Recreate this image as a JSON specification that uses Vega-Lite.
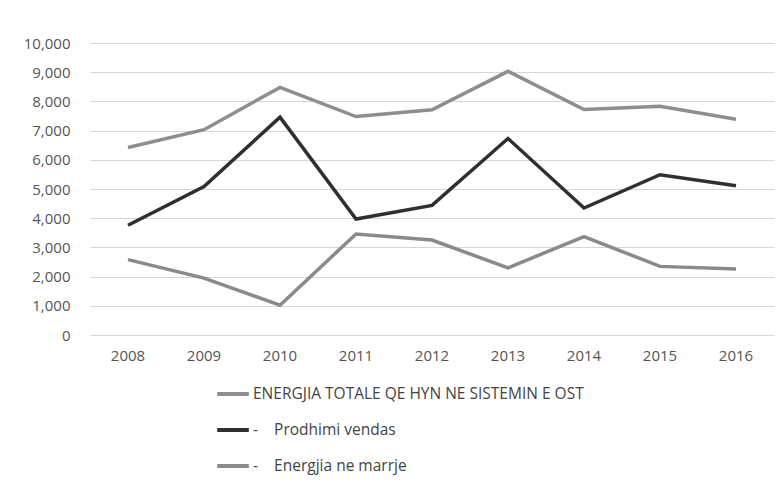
{
  "$schema": "https://vega.github.io/schema/vega-lite/v6.json",
  "width": 684,
  "height": 292,
  "autosize": {"type": "none"},
  "padding": {"left": 90, "top": 43, "right": 10, "bottom": 152},
  "background": "white",
  "config": {
    "font": "Open Sans",
    "view": {"stroke": null}
  },
  "data": {
    "values": [
      {"year": "2008", "series": "ENERGJIA TOTALE QE HYN NE SISTEMIN E OST", "value": 6420},
      {"year": "2009", "series": "ENERGJIA TOTALE QE HYN NE SISTEMIN E OST", "value": 7030},
      {"year": "2010", "series": "ENERGJIA TOTALE QE HYN NE SISTEMIN E OST", "value": 8480},
      {"year": "2011", "series": "ENERGJIA TOTALE QE HYN NE SISTEMIN E OST", "value": 7480},
      {"year": "2012", "series": "ENERGJIA TOTALE QE HYN NE SISTEMIN E OST", "value": 7710},
      {"year": "2013", "series": "ENERGJIA TOTALE QE HYN NE SISTEMIN E OST", "value": 9030},
      {"year": "2014", "series": "ENERGJIA TOTALE QE HYN NE SISTEMIN E OST", "value": 7720},
      {"year": "2015", "series": "ENERGJIA TOTALE QE HYN NE SISTEMIN E OST", "value": 7830},
      {"year": "2016", "series": "ENERGJIA TOTALE QE HYN NE SISTEMIN E OST", "value": 7390},
      {"year": "2008", "series": "Prodhimi vendas", "value": 3760},
      {"year": "2009", "series": "Prodhimi vendas", "value": 5080},
      {"year": "2010", "series": "Prodhimi vendas", "value": 7460},
      {"year": "2011", "series": "Prodhimi vendas", "value": 3970},
      {"year": "2012", "series": "Prodhimi vendas", "value": 4440},
      {"year": "2013", "series": "Prodhimi vendas", "value": 6730},
      {"year": "2014", "series": "Prodhimi vendas", "value": 4350},
      {"year": "2015", "series": "Prodhimi vendas", "value": 5490},
      {"year": "2016", "series": "Prodhimi vendas", "value": 5110},
      {"year": "2008", "series": "Energjia ne marrje", "value": 2580},
      {"year": "2009", "series": "Energjia ne marrje", "value": 1950},
      {"year": "2010", "series": "Energjia ne marrje", "value": 1020},
      {"year": "2011", "series": "Energjia ne marrje", "value": 3460},
      {"year": "2012", "series": "Energjia ne marrje", "value": 3250},
      {"year": "2013", "series": "Energjia ne marrje", "value": 2300},
      {"year": "2014", "series": "Energjia ne marrje", "value": 3370},
      {"year": "2015", "series": "Energjia ne marrje", "value": 2350},
      {"year": "2016", "series": "Energjia ne marrje", "value": 2260}
    ]
  },
  "mark": {"type": "line", "strokeWidth": 3.5, "strokeJoin": "miter"},
  "encoding": {
    "x": {
      "field": "year",
      "type": "ordinal",
      "scale": {"type": "band", "paddingInner": 0, "paddingOuter": 0},
      "axis": {
        "title": null,
        "labelAngle": 0,
        "ticks": false,
        "domain": false,
        "grid": false,
        "labelPadding": 13,
        "labelFontSize": 15,
        "labelColor": "#555555",
        "labelFont": "Open Sans"
      }
    },
    "y": {
      "field": "value",
      "type": "quantitative",
      "scale": {"domain": [0, 10000], "nice": false},
      "axis": {
        "title": null,
        "values": [0, 1000, 2000, 3000, 4000, 5000, 6000, 7000, 8000, 9000, 10000],
        "format": ",d",
        "ticks": false,
        "domain": false,
        "grid": true,
        "gridColor": "#d6d6d6",
        "gridWidth": 1,
        "labelPadding": 20,
        "labelFontSize": 15,
        "labelColor": "#555555",
        "labelFont": "Open Sans"
      }
    },
    "color": {
      "field": "series",
      "type": "nominal",
      "scale": {
        "domain": ["ENERGJIA TOTALE QE HYN NE SISTEMIN E OST", "Prodhimi vendas", "Energjia ne marrje"],
        "range": ["#8e8e8e", "#2f2f2f", "#8a8a8a"]
      },
      "legend": {
        "title": null,
        "orient": "none",
        "legendX": 125,
        "legendY": 333,
        "direction": "vertical",
        "symbolType": "stroke",
        "symbolSize": 1000,
        "symbolStrokeWidth": 4,
        "rowPadding": 9,
        "labelOffset": 2,
        "labelFontSize": 15.5,
        "labelColor": "#444444",
        "labelFont": "Open Sans",
        "labelLimit": 500,
        "labelExpr": "datum.label == 'ENERGJIA TOTALE QE HYN NE SISTEMIN E OST' ? datum.label : '-\u00a0\u00a0\u00a0\u00a0' + datum.label"
      }
    }
  }
}
